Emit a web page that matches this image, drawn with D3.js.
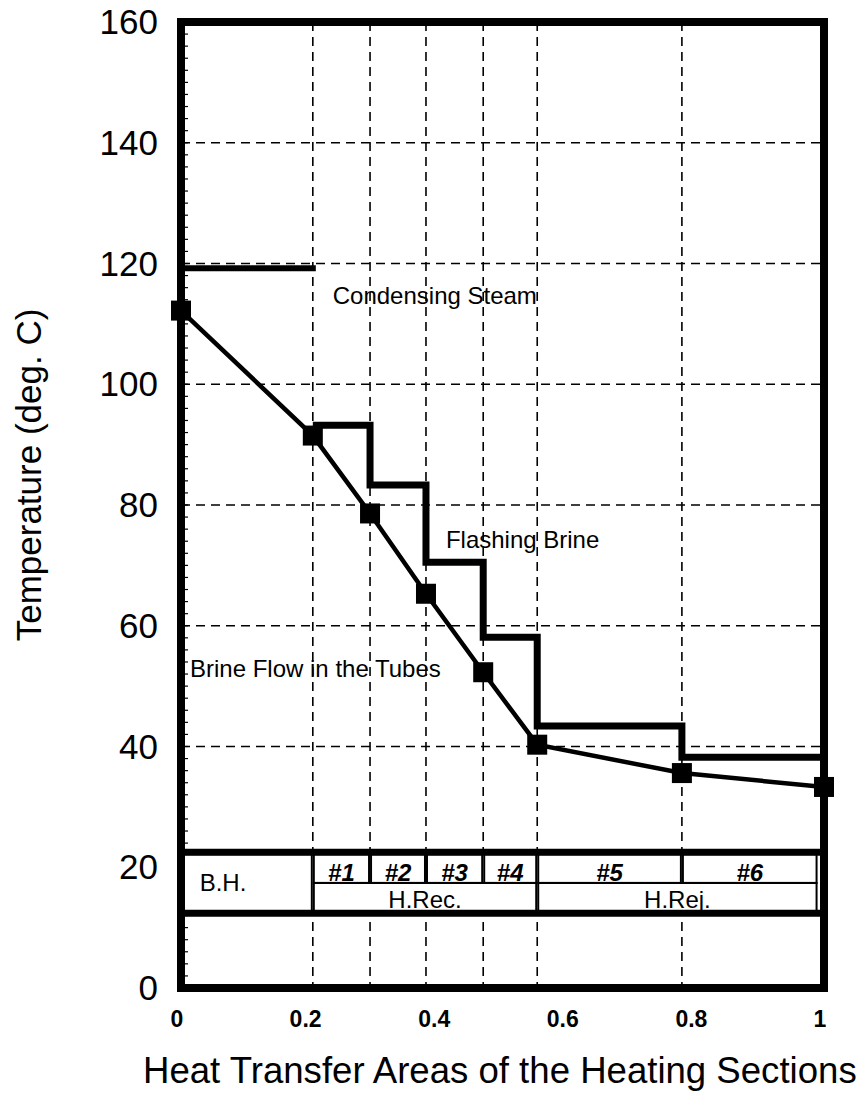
<!DOCTYPE html>
<html>
<head>
<meta charset="utf-8">
<script src="https://cdn.jsdelivr.net/npm/d3@7"></script>
<style>
    html, body { margin: 0; padding: 0; background: #fff; }
    svg { display: block; font-family: "Liberation Sans", Arial, Helvetica, sans-serif; }
</style>
</head>
<body>
<div id="chart"></div>
<script>
// data
const sectionEdges = [0, 0.205, 0.294, 0.381, 0.47, 0.554, 0.779, 1];
const brineTubeTemps = [112.2, 91.5, 78.6, 65.3, 52.3, 40.3, 35.6, 33.3];
const flashingBrineTemps = [93.2, 83.3, 70.5, 58.1, 43.4, 38.2];   // stages #1..#6
const steamTemp = 119.2;
const stageLabels = ["#1", "#2", "#3", "#4", "#5", "#6"];
const groupLabels = ["B.H.", "H.Rec.", "H.Rej."];
const groupSpans = [[0, 1], [1, 5], [5, 7]];   // indexes into sectionEdges
const yTicks = [0, 20, 40, 60, 80, 100, 120, 140, 160];
const yGridTemps = [40, 60, 80, 100, 120, 140];
const xTicks = [0, 0.2, 0.4, 0.6, 0.8, 1];
const xTickLabels = ["0", "0.2", "0.4", "0.6", "0.8", "1"];

const width = 866, height = 1101;

const svg = d3.select("#chart").append("svg")
    .attr("width", width)
    .attr("height", height);

const x = d3.scaleLinear().domain([0, 1]).range([181, 824]);
const y = d3.scaleLinear().domain([0, 160]).range([988, 22]);

drawGrid();
drawBand();
drawSeries();
drawFrame();
drawLabels();

function drawGrid() {
    const g = svg.append("g")
        .attr("stroke", "#000")
        .attr("stroke-width", 1.6)
        .attr("stroke-dasharray", "9,6");

    g.selectAll("line.h").data(yGridTemps).join("line")
        .attr("class", "h")
        .attr("x1", x(0)).attr("x2", x(1))
        .attr("y1", d => y(d)).attr("y2", d => y(d));

    g.selectAll("line.v").data(sectionEdges.slice(1, -1)).join("line")
        .attr("class", "v")
        .attr("x1", d => x(d)).attr("x2", d => x(d))
        .attr("y1", y(160)).attr("y2", y(0));

    // little minor ticks on the inside of the left frame
    svg.append("g").selectAll("line")
        .data(d3.range(2, 160, 2))
        .join("line")
        .attr("x1", x(0)).attr("x2", x(0) + 7)
        .attr("y1", d => y(d)).attr("y2", d => y(d))
        .attr("stroke", "#000")
        .attr("stroke-width", 1.2);
}

function drawBand() {
    const top = y(22.5), mid = y(17.4), bottom = y(12.4);
    const g = svg.append("g");

    // white background so the grid doesn't show through
    g.append("rect")
        .attr("x", x(0)).attr("y", top)
        .attr("width", x(1) - x(0)).attr("height", bottom - top)
        .attr("fill", "#fff");

    // stage cells (upper row)
    g.selectAll("rect.stage").data(stageLabels).join("rect")
        .attr("class", "stage")
        .attr("x", (d, i) => x(sectionEdges[i + 1]) + 1)
        .attr("y", top + 2)
        .attr("width", (d, i) => x(Math.min(sectionEdges[i + 2], 0.99)) - x(sectionEdges[i + 1]) - 2)
        .attr("height", mid - top - 2)
        .attr("fill", "none")
        .attr("stroke", "#000")
        .attr("stroke-width", 2);

    g.selectAll("text.stage").data(stageLabels).join("text")
        .attr("class", "stage")
        .attr("x", (d, i) => (x(sectionEdges[i + 1]) + x(Math.min(sectionEdges[i + 2], 0.99))) / 2)
        .attr("y", mid - 2)
        .attr("text-anchor", "middle")
        .attr("font-size", 24)
        .attr("font-style", "italic")
        .attr("font-weight", "bold")
        .text(d => d);

    // group cells: B.H. spans both rows, the others the lower row
    g.selectAll("rect.group").data(groupSpans).join("rect")
        .attr("class", "group")
        .attr("x", (d, i) => i === 0 ? x(0) : x(sectionEdges[d[0]]) + 1)
        .attr("y", (d, i) => i === 0 ? top + 2 : mid)
        .attr("width", (d, i) => x(Math.min(sectionEdges[d[1]], 0.99)) - (i === 0 ? x(0) : x(sectionEdges[d[0]]) + 1) - 1)
        .attr("height", (d, i) => i === 0 ? bottom - top - 4 : bottom - mid - 2)
        .attr("fill", "none")
        .attr("stroke", "#000")
        .attr("stroke-width", 2);

    g.selectAll("text.group").data(groupLabels).join("text")
        .attr("class", "group")
        .attr("x", (d, i) => i === 0
            ? x(0) + 42
            : (x(sectionEdges[groupSpans[i][0]]) + x(Math.min(sectionEdges[groupSpans[i][1]], 0.99))) / 2)
        .attr("y", (d, i) => i === 0 ? (top + bottom) / 2 + 8 : bottom - 5)
        .attr("text-anchor", "middle")
        .attr("font-size", 24)
        .text(d => d);

    // thick rules above and below the band
    g.selectAll("line.rule").data([22.5, 12.4]).join("line")
        .attr("class", "rule")
        .attr("x1", x(0)).attr("x2", x(1))
        .attr("y1", d => y(d)).attr("y2", d => y(d))
        .attr("stroke", "#000")
        .attr("stroke-width", 7);
}

function drawSeries() {
    // condensing steam over the brine heater
    svg.append("line")
        .attr("x1", x(sectionEdges[0])).attr("x2", x(sectionEdges[1]))
        .attr("y1", y(steamTemp)).attr("y2", y(steamTemp))
        .attr("stroke", "#000")
        .attr("stroke-width", 6)
        .attr("stroke-linecap", "square");

    // flashing brine, one flat step per stage
    const steps = [];
    flashingBrineTemps.forEach((t, i) => {
        steps.push([sectionEdges[i + 1], t]);
        steps.push([sectionEdges[i + 2], t]);
    });
    svg.append("path")
        .attr("d", d3.line().x(d => x(d[0])).y(d => y(d[1]))(steps))
        .attr("fill", "none")
        .attr("stroke", "#000")
        .attr("stroke-width", 7)
        .attr("stroke-linejoin", "miter");

    // brine flowing in the tubes
    const tube = sectionEdges.map((e, i) => [e, brineTubeTemps[i]]);
    svg.append("path")
        .attr("d", d3.line().x(d => x(d[0])).y(d => y(d[1]))(tube))
        .attr("fill", "none")
        .attr("stroke", "#000")
        .attr("stroke-width", 4.5);

    const size = 20;
    svg.append("g").selectAll("rect").data(tube).join("rect")
        .attr("x", d => x(d[0]) - size / 2)
        .attr("y", d => y(d[1]) - size / 2)
        .attr("width", size)
        .attr("height", size)
        .attr("fill", "#000");
}

function drawFrame() {
    svg.append("rect")
        .attr("x", x(0)).attr("y", y(160))
        .attr("width", x(1) - x(0))
        .attr("height", y(0) - y(160))
        .attr("fill", "none")
        .attr("stroke", "#000")
        .attr("stroke-width", 8);
}

function drawLabels() {
    svg.append("g").selectAll("text").data(yTicks).join("text")
        .attr("x", 158)
        .attr("y", d => y(d) + 12)
        .attr("text-anchor", "end")
        .attr("font-size", 35)
        .text(d => d);

    svg.append("g").selectAll("text").data(xTicks).join("text")
        .attr("x", d => x(d) - 4)
        .attr("y", 1027)
        .attr("text-anchor", "middle")
        .attr("font-size", 23)
        .attr("font-weight", "bold")
        .text((d, i) => xTickLabels[i]);

    svg.append("text")
        .attr("transform", "translate(41,475) rotate(-90)")
        .attr("text-anchor", "middle")
        .attr("font-size", 35)
        .text("Temperature (deg. C)");

    svg.append("text")
        .attr("x", 143)
        .attr("y", 1083)
        .attr("font-size", 36.6)
        .text("Heat Transfer Areas of the Heating Sections");

    const notes = [
        {text: "Condensing Steam", x: 0.236, t: 113.3},
        {text: "Flashing Brine", x: 0.412, t: 72.8},
        {text: "Brine Flow in the Tubes", x: 0.014, t: 51.5}
    ];
    svg.append("g").selectAll("text").data(notes).join("text")
        .attr("x", d => x(d.x))
        .attr("y", d => y(d.t))
        .attr("font-size", 24)
        .text(d => d.text);
}
</script>
</body>
</html>
